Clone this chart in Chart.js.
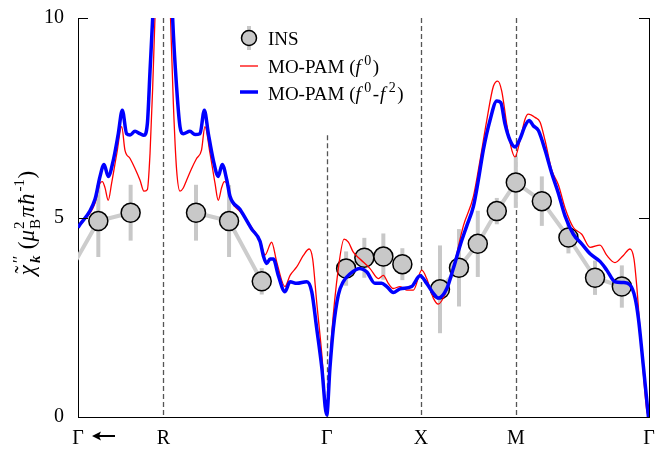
<!DOCTYPE html>
<html>
<head>
<meta charset="utf-8">
<script src="https://cdn.jsdelivr.net/npm/chart.js@4"></script>
<style>
  body { margin: 0; background: #fff; }
  canvas { display: block; }
</style>
</head>
<body>
<canvas id="chi" width="667" height="451"></canvas>
<script>
// path coordinate along the k-path (2π/a), measured from the left edge of the plot
const tickPos = [0, 0.449, 1.309, 1.805, 2.304, 3.005];
const tickLabels = ['Γ', 'R', 'Γ', 'X', 'M', 'Γ'];
const dashPos = [0.449, 1.309, 1.805, 2.304];
const dashTop = [10, 7.06, 10, 10];

// MO-PAM (f0-f2), thick blue
const blueK = [0.000,0.089,0.116,0.137,0.159,0.186,0.212,0.233,0.256,0.274,0.300,0.326,0.347,0.365,0.379,0.393,0.411,0.449,0.484,0.498,
  0.519,0.537,0.554,0.589,0.616,0.642,0.665,0.686,0.712,0.738,0.759,0.783,0.800,0.853,0.914,0.958,0.975,0.993,1.011,1.028,
  1.054,1.089,1.116,1.151,1.204,1.230,1.256,1.283,1.309,1.326,1.344,1.370,1.396,1.432,1.484,1.519,1.563,1.598,1.625,1.659,
  1.695,1.756,1.800,1.835,1.870,1.896,1.941,1.975,2.011,2.046,2.081,2.107,2.133,2.168,2.204,2.225,2.247,2.274,2.300,2.326,
  2.353,2.374,2.396,2.423,2.458,2.493,2.528,2.563,2.607,2.651,2.695,2.747,2.783,2.826,2.870,2.905,2.932,2.949,2.976,3.002];
const blueVal = [4.75,5.45,6.03,6.33,6.03,6.44,7.10,7.69,7.10,7.07,7.16,7.10,7.06,7.35,8.67,10.0,12.0,14.0,12.0,10.0,
  8.26,7.27,7.10,7.16,7.08,7.10,7.69,7.10,6.44,6.03,6.33,5.94,5.53,5.20,4.71,4.40,4.05,3.85,3.96,3.96,
  3.55,3.14,3.39,3.35,3.39,3.14,2.23,1.24,0.05,1.24,2.23,3.06,3.39,3.59,3.72,3.64,3.35,3.35,3.27,3.12,
  3.21,3.27,3.54,3.35,3.10,2.98,3.22,3.72,4.30,4.79,5.28,5.94,6.69,7.43,7.92,7.88,7.35,6.93,6.77,6.97,
  7.30,7.43,7.30,7.18,6.69,6.11,5.61,5.04,4.58,4.34,4.09,3.90,3.68,3.39,3.37,3.31,2.98,2.48,1.24,0.00];

// MO-PAM (f0), thin red
const redK = [0.000,0.089,0.116,0.128,0.142,0.159,0.177,0.204,0.230,0.247,0.274,0.300,0.326,0.347,0.365,0.379,0.393,0.405,0.421,0.449,
  0.474,0.487,0.502,0.519,0.537,0.554,0.572,0.598,0.624,0.650,0.668,0.695,0.721,0.738,0.756,0.770,0.782,0.808,0.853,0.914,
  0.958,0.984,1.019,1.046,1.089,1.116,1.151,1.186,1.217,1.235,1.256,1.283,1.309,1.335,1.370,1.400,1.423,1.449,1.484,1.537,
  1.581,1.607,1.633,1.659,1.695,1.730,1.765,1.809,1.835,1.870,1.896,1.941,1.975,2.028,2.081,2.116,2.151,2.186,2.209,2.230,
  2.256,2.283,2.300,2.326,2.353,2.370,2.405,2.432,2.458,2.493,2.528,2.563,2.607,2.651,2.695,2.747,2.783,2.826,2.870,2.905,
  2.926,2.940,2.966,2.993,3.002];
const redVal = [4.77,5.35,5.86,5.90,5.75,5.43,5.86,6.60,7.28,6.69,6.48,6.23,5.94,5.66,5.70,6.60,8.25,10.0,12.0,14.0,
  12.0,10.0,7.84,6.19,5.66,5.74,5.94,6.23,6.48,6.69,7.28,6.60,5.86,5.43,5.75,5.90,5.86,5.40,5.15,4.75,
  4.43,4.06,4.38,3.88,3.27,3.55,3.76,4.05,4.21,3.96,2.89,1.58,0.05,2.07,3.72,4.46,4.38,4.13,3.96,3.72,
  3.47,3.55,3.35,3.22,3.27,3.18,3.18,3.68,3.47,2.98,2.83,3.18,3.72,4.79,5.53,6.44,7.43,8.29,8.42,8.17,
  7.35,6.69,6.52,6.93,7.47,7.59,7.51,7.39,6.93,6.19,5.82,5.24,4.75,4.58,4.25,4.31,4.05,3.87,4.05,4.21,
  3.96,3.31,1.66,0.17,0.00];

// INS data (null = break in the connecting line)
const insK = [-0.074,0.107,0.277,0.449,0.621,0.795,0.967,1.200,1.411,1.507,1.607,1.707,1.800,1.905,2.005,2.104,2.204,2.304,2.441,2.581,2.721,2.862];
const insVal = [3.40,4.91,5.12,null,5.12,4.91,3.40,null,3.72,3.99,4.02,3.83,null,3.20,3.74,4.34,5.16,5.88,5.41,4.50,3.49,3.27];
const insErr = [0.33,0.90,0.70,null,0.70,0.90,0.33,null,0.43,0.50,0.58,0.40,null,1.10,0.97,0.83,0.33,0.64,0.62,0.40,0.43,0.53];

const SERIF = '"Liberation Serif", "DejaVu Serif", serif';
const F = (size, style) => `${style || ''} ${size}px ${SERIF}`;

const pairs = (ks, vs) => ks.map((k, i) => ({ x: k, y: vs[i] }));

// tiny rich-text helper for sub/superscripts
function segWidth(ctx, s) {
  if (s.over) return 0;
  if (s.t !== undefined) { ctx.font = s.font; return ctx.measureText(s.t).width + (s.gap || 0); }
  let w = 0;
  if (s.sup) { ctx.font = s.supFont; w = Math.max(w, ctx.measureText(s.sup).width); }
  if (s.sub) { ctx.font = s.subFont; w = Math.max(w, ctx.measureText(s.sub).width); }
  return w + 1.5 + (s.gap || 0);
}
function drawRich(ctx, segs, x, y, center, supUp, subDown) {
  const total = segs.reduce((a, s) => a + segWidth(ctx, s), 0);
  let cx = center ? x - total / 2 : x;
  let prevX = cx, prevW = 0;
  ctx.textAlign = 'left';
  ctx.textBaseline = 'alphabetic';
  segs.forEach(s => {
    if (s.over) {
      ctx.font = s.font;
      const ow = ctx.measureText(s.over).width;
      ctx.fillText(s.over, prevX + (prevW - ow) / 2 + (s.dx || 0), y + (s.dy || 0));
      return;
    }
    const w = segWidth(ctx, s);
    if (s.t !== undefined) {
      ctx.font = s.font;
      ctx.fillText(s.t, cx, y);
    } else {
      if (s.sup) { ctx.font = s.supFont; ctx.fillText(s.sup, cx + 1, y - supUp); }
      if (s.sub) { ctx.font = s.subFont; ctx.fillText(s.sub, cx + 1, y + subDown); }
    }
    prevX = cx; prevW = w;
    cx += w;
  });
}

const yTitle = [
  { t: 'χ', font: F(23, 'italic'), gap: 1 },
  { over: '˜', font: F(23), dy: -3, dx: 0 },
  { sup: '′′', sub: 'k', supFont: F(17), subFont: F(15, 'italic bold') },
  { t: ' (', font: F(23) },
  { t: 'μ', font: F(23, 'italic') },
  { sup: '2', sub: 'B', supFont: F(15), subFont: F(15), gap: 1 },
  { t: 'π', font: F(23, 'italic'), gap: 1 },
  { t: 'ħ', font: F(23, 'italic'), gap: 1 },
  { sup: '-1', supFont: F(15) },
  { t: ')', font: F(23) }
];
const legendRed = [
  { t: 'MO-PAM (', font: F(19) }, { t: 'f', font: F(19, 'italic'), gap: 2.5 },
  { sup: '0', supFont: F(14), gap: 1 }, { t: ')', font: F(19) }
];
const legendBlue = [
  { t: 'MO-PAM (', font: F(19) }, { t: 'f', font: F(19, 'italic'), gap: 2.5 }, { sup: '0', supFont: F(14), gap: 1 },
  { t: '-', font: F(19), gap: 1 }, { t: 'f', font: F(19, 'italic'), gap: 2.5 }, { sup: '2', supFont: F(14), gap: 1 },
  { t: ')', font: F(19) }
];

const decor = {
  id: 'decor',
  beforeDatasetsDraw(chart) {
    const { ctx, chartArea: a, scales: { x, y } } = chart;
    ctx.save();
    ctx.beginPath();
    ctx.rect(a.left, a.top, a.right - a.left, a.bottom - a.top);
    ctx.clip();
    // high-symmetry lines
    ctx.strokeStyle = '#555';
    ctx.lineWidth = 1.3;
    ctx.setLineDash([5, 3]);
    dashPos.forEach((k, i) => {
      const px = Math.round(x.getPixelForValue(k)) + 0.5;
      ctx.beginPath();
      ctx.moveTo(px, y.getPixelForValue(dashTop[i]));
      ctx.lineTo(px, a.bottom);
      ctx.stroke();
    });
    ctx.setLineDash([]);
    // INS error bars
    ctx.strokeStyle = '#c8c8c8';
    ctx.lineWidth = 4;
    insK.forEach((k, i) => {
      if (insVal[i] === null) return;
      const px = x.getPixelForValue(k);
      ctx.beginPath();
      ctx.moveTo(px, y.getPixelForValue(insVal[i] - insErr[i]));
      ctx.lineTo(px, y.getPixelForValue(insVal[i] + insErr[i]));
      ctx.stroke();
    });
    ctx.restore();
  },
  afterDraw(chart) {
    const { ctx, chartArea: a, scales: { x, y } } = chart;
    ctx.save();
    // right frame and inward ticks
    ctx.strokeStyle = '#000';
    ctx.lineWidth = 1;
    ctx.beginPath();
    ctx.moveTo(a.right + 0.5, a.top);
    ctx.lineTo(a.right + 0.5, a.bottom);
    [5, 10].forEach(v => {
      const py = Math.round(y.getPixelForValue(v)) + 0.5;
      ctx.moveTo(a.left, py); ctx.lineTo(a.left + 10, py);
      ctx.moveTo(a.right, py); ctx.lineTo(a.right - 10, py);
    });
    ctx.stroke();

    // arrow next to the first Γ
    const ax = x.getPixelForValue(0) + 14, ay = 436;
    ctx.fillStyle = '#000';
    ctx.lineWidth = 2;
    ctx.beginPath();
    ctx.moveTo(ax + 23, ay); ctx.lineTo(ax + 6, ay);
    ctx.stroke();
    ctx.beginPath();
    ctx.moveTo(ax, ay); ctx.lineTo(ax + 9, ay - 4.5); ctx.lineTo(ax + 7, ay); ctx.lineTo(ax + 9, ay + 4.5);
    ctx.closePath();
    ctx.fill();

    // y axis title
    ctx.save();
    ctx.translate(34, 223);
    ctx.rotate(-Math.PI / 2);
    ctx.fillStyle = '#000';
    drawRich(ctx, yTitle, 0, 0, true, 10, 6);
    ctx.restore();

    // legend
    const lx = 249;
    ctx.strokeStyle = '#c8c8c8';
    ctx.lineWidth = 4;
    ctx.beginPath(); ctx.moveTo(lx, 26); ctx.lineTo(lx, 50); ctx.stroke();
    ctx.beginPath(); ctx.arc(lx, 38, 7.5, 0, Math.PI * 2);
    ctx.fillStyle = '#c8c8c8'; ctx.fill();
    ctx.strokeStyle = '#000'; ctx.lineWidth = 1.5; ctx.stroke();
    ctx.strokeStyle = '#ff0000'; ctx.lineWidth = 1.3;
    ctx.beginPath(); ctx.moveTo(240, 66); ctx.lineTo(258, 66); ctx.stroke();
    ctx.strokeStyle = '#0000ff'; ctx.lineWidth = 3.5;
    ctx.beginPath(); ctx.moveTo(240, 92); ctx.lineTo(258, 92); ctx.stroke();
    ctx.fillStyle = '#000';
    drawRich(ctx, [{ t: 'INS', font: F(19) }], 268, 45, false, 8, 5);
    drawRich(ctx, legendRed, 268, 72.5, false, 8, 5);
    drawRich(ctx, legendBlue, 268, 100, false, 8, 5);
    ctx.restore();
  }
};

new Chart(document.getElementById('chi').getContext('2d'), {
  type: 'line',
  data: {
    datasets: [
      {
        label: 'MO-PAM (f0-f2)',
        data: pairs(blueK, blueVal),
        borderColor: '#0000ff',
        borderWidth: 3.5,
        pointRadius: 0,
        cubicInterpolationMode: 'monotone',
        order: 0
      },
      {
        label: 'MO-PAM (f0)',
        data: pairs(redK, redVal),
        borderColor: '#ff0000',
        borderWidth: 1.3,
        pointRadius: 0,
        cubicInterpolationMode: 'monotone',
        order: 1
      },
      {
        label: 'INS',
        data: pairs(insK, insVal),
        borderColor: '#cccccc',
        borderWidth: 4,
        pointRadius: 9.5,
        pointBackgroundColor: '#c8c8c8',
        pointBorderColor: '#000',
        pointBorderWidth: 1.5,
        spanGaps: false,
        order: 2
      }
    ]
  },
  options: {
    responsive: false,
    devicePixelRatio: 1,
    animation: false,
    layout: { padding: { top: 12.5, right: 18, left: 0, bottom: 0 } },
    plugins: { legend: { display: false }, tooltip: { enabled: false } },
    scales: {
      x: {
        type: 'linear',
        min: 0,
        max: 3.005,
        afterBuildTicks: axis => { axis.ticks = tickPos.map(v => ({ value: v })); },
        afterFit: axis => { axis.height = 34; },
        grid: { display: false },
        border: { display: true, color: '#000', width: 1 },
        ticks: {
          autoSkip: false,
          maxRotation: 0,
          padding: 2,
          color: '#000',
          font: { family: SERIF, size: 20 },
          callback: (v, i) => tickLabels[i]
        }
      },
      y: {
        min: 0,
        max: 10,
        afterFit: axis => { axis.width = 78; },
        grid: { display: false },
        border: { display: true, color: '#000', width: 1 },
        ticks: { stepSize: 5, padding: 6, color: '#000', font: { family: SERIF, size: 20 } }
      }
    }
  },
  plugins: [decor]
});
</script>
</body>
</html>
